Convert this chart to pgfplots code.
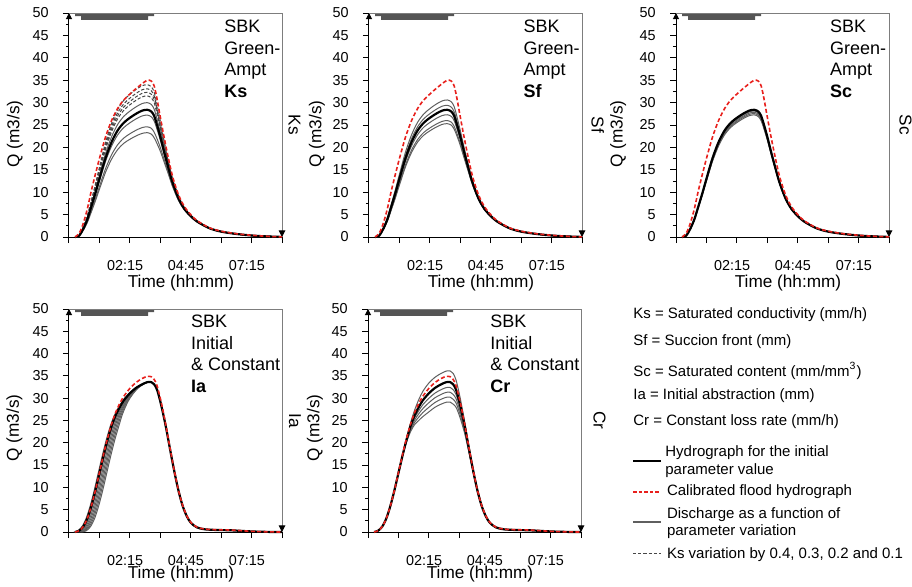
\documentclass[border=0pt]{standalone}
\usepackage{fontspec}
\setmainfont{Liberation Sans}
\usepackage{pgfplots}
\usepackage{pgfplotstable}
\pgfplotsset{compat=1.18}
\usetikzlibrary{arrows.meta}

\definecolor{calib}{RGB}{232,32,28}
\definecolor{varcol}{RGB}{95,95,95}
\definecolor{dashcol}{RGB}{70,70,70}
\definecolor{raincol}{RGB}{85,85,85}
\definecolor{framecol}{RGB}{125,125,125}

\newcommand\tickfont{\fontsize{7.2}{8}\selectfont}
\newcommand\labfont{\fontsize{8.6}{10}\selectfont}
\newcommand\boxfont{\fontsize{9}{10.75}\selectfont}
\newcommand\lgfont{\fontsize{7.5}{9}\selectfont}

% Green-Ampt: calibrated and initial hydrographs
\pgfplotstableread{
t red blk
0 0 0
10 0.8 0.3
20 3.0 1.8
30 6.2 3.9
40 10.3 6.8
50 14.0 9.8
60 17.5 13.0
75 22.3 17.6
90 26.0 21.2
105 28.7 23.8
120 30.6 25.5
135 31.9 26.6
150 33.1 27.5
165 34.2 28.2
178 35.0 28.4
188 34.8 28.0
195 33.7 27.0
202 30.8 25.0
210 26.8 22.4
220 22.0 18.8
230 17.6 15.4
240 13.6 12.2
255 9.4 8.6
270 6.7 6.2
285 5.0 4.7
300 3.7 3.5
330 2.1 2.0
360 1.3 1.2
400 0.7 0.65
440 0.35 0.3
480 0.12 0.1
510 0.03 0.02
}\gatab

% Ks variations (d = dashed, g = solid)
\pgfplotstableread{
t d1 d2 d3 d4 g1 g2 g3 g4
0 0 0 0 0 0 0 0 0
10 0.36 0.35 0.34 0.33 0.32 0.29 0.26 0.25
20 2.15 2.10 2.05 2.00 1.90 1.72 1.56 1.48
30 4.67 4.54 4.43 4.33 4.12 3.74 3.38 3.20
40 8.14 7.92 7.73 7.54 7.18 6.51 5.89 5.58
50 11.73 11.42 11.14 10.87 10.35 9.39 8.49 8.04
60 15.56 15.15 14.78 14.42 13.73 12.45 11.26 10.66
75 21.07 20.50 20.01 19.52 18.59 16.86 15.24 14.43
90 25.38 24.70 24.10 23.51 22.39 20.31 18.36 17.38
105 28.49 27.73 27.06 26.39 25.13 22.80 20.61 19.52
120 30.52 29.71 28.99 28.28 26.93 24.43 22.08 20.91
135 31.84 30.99 30.24 29.50 28.09 25.48 23.04 21.81
150 32.92 32.04 31.27 30.50 29.04 26.35 23.82 22.55
165 33.76 32.85 32.06 31.27 29.78 27.02 24.42 23.12
178 34.00 33.09 32.29 31.50 29.99 27.21 24.59 23.29
188 33.52 32.62 31.84 31.05 29.57 26.82 24.25 22.96
195 32.32 31.46 30.70 29.94 28.51 25.87 23.38 22.14
202 29.53 28.80 28.15 27.50 26.29 24.03 21.92 20.85
210 25.93 25.36 24.86 24.35 23.41 21.64 20.00 19.17
220 21.21 20.81 20.47 20.13 19.48 18.29 17.16 16.60
230 16.92 16.67 16.45 16.24 15.83 15.08 14.37 14.01
240 13.16 13.01 12.87 12.73 12.47 11.99 11.54 11.32
255 9.11 9.03 8.95 8.88 8.75 8.49 8.26 8.14
270 6.47 6.42 6.39 6.35 6.27 6.14 6.02 5.95
285 4.87 4.84 4.82 4.79 4.75 4.66 4.59 4.55
300 3.60 3.59 3.57 3.56 3.53 3.48 3.43 3.41
330 2.0 2.0 2.0 2.0 2.0 2.0 2.0 2.0
360 1.2 1.2 1.2 1.2 1.2 1.2 1.2 1.2
400 0.65 0.65 0.65 0.65 0.65 0.65 0.65 0.65
440 0.3 0.3 0.3 0.3 0.3 0.3 0.3 0.3
510 0.02 0.02 0.02 0.02 0.02 0.02 0.02 0.02
}\ksvar

% Sf variations
\pgfplotstableread{
t a b c d e
0 0 0 0 0 0
10 0.32 0.31 0.29 0.27 0.27
20 1.94 1.86 1.73 1.65 1.60
30 4.20 4.04 3.75 3.57 3.47
40 7.32 7.04 6.53 6.22 6.06
50 10.55 10.14 9.42 8.97 8.73
60 14.00 13.46 12.49 11.90 11.58
75 18.96 18.22 16.91 16.10 15.68
90 22.83 21.94 20.37 19.40 18.89
105 25.63 24.63 22.87 21.78 21.21
120 27.46 26.39 24.51 23.33 22.72
135 28.65 27.53 25.56 24.34 23.70
150 29.62 28.46 26.43 25.16 24.50
165 30.37 29.19 27.10 25.80 25.13
178 30.59 29.39 27.29 25.99 25.30
188 30.16 28.98 26.91 25.62 24.95
195 29.08 27.95 25.95 24.71 24.06
202 26.77 25.80 24.10 23.05 22.50
210 23.78 23.03 21.71 20.88 20.45
220 19.74 19.23 18.33 17.77 17.47
230 15.99 15.67 15.10 14.75 14.56
240 12.58 12.37 12.00 11.79 11.67
255 8.80 8.69 8.50 8.38 8.32
270 6.31 6.25 6.15 6.08 6.05
285 4.77 4.73 4.66 4.63 4.61
300 3.54 3.52 3.48 3.46 3.45
330 2.0 2.0 2.0 2.0 2.0
360 1.2 1.2 1.2 1.2 1.2
400 0.65 0.65 0.65 0.65 0.65
440 0.3 0.3 0.3 0.3 0.3
510 0.02 0.02 0.02 0.02 0.02
}\sfvar

% Sc variations
\pgfplotstableread{
t a b c d
0 0 0 0 0
10 0.30 0.29 0.29 0.29
20 1.78 1.76 1.75 1.73
30 3.86 3.82 3.78 3.74
40 6.73 6.66 6.60 6.53
50 9.70 9.60 9.51 9.41
60 12.87 12.74 12.61 12.48
75 17.42 17.25 17.07 16.90
90 20.99 20.78 20.56 20.35
105 23.56 23.32 23.09 22.85
120 25.25 24.99 24.74 24.48
135 26.33 26.07 25.80 25.54
150 27.23 26.95 26.68 26.40
165 27.92 27.64 27.35 27.07
178 28.12 27.83 27.55 27.26
188 27.72 27.44 27.16 26.88
195 26.73 26.46 26.19 25.92
202 24.80 24.54 24.31 24.08
210 22.22 22.04 21.86 21.68
220 18.68 18.56 18.43 18.31
230 15.32 15.25 15.17 15.09
240 12.15 12.10 12.05 12.00
255 8.57 8.55 8.52 8.50
270 6.19 6.17 6.16 6.15
285 4.69 4.68 4.67 4.66
300 3.50 3.49 3.49 3.48
330 2.0 2.0 2.0 2.0
360 1.2 1.2 1.2 1.2
400 0.65 0.65 0.65 0.65
440 0.3 0.3 0.3 0.3
510 0.02 0.02 0.02 0.02
}\scvar

% Initial & Constant: calibrated and initial hydrographs
\pgfplotstableread{
t red blk
0 0 0
10 0.3 0.3
20 1.2 1.2
30 3.0 3.0
40 5.8 5.8
50 9.3 9.3
60 13.3 13.2
70 17.3 17.1
80 21.0 20.7
90 24.2 23.8
100 26.8 26.2
110 28.8 28.0
120 30.4 29.5
135 32.2 31.1
150 33.5 32.3
165 34.4 33.1
178 34.9 33.6
188 34.8 33.6
195 34.2 33.1
202 32.8 31.9
210 30.0 29.3
218 26.6 26.1
225 23.3 23.0
235 18.3 18.1
245 13.5 13.4
255 9.3 9.2
265 6.0 5.9
275 3.7 3.6
285 2.2 2.1
300 1.1 1.05
320 0.65 0.6
350 0.5 0.45
380 0.45 0.4
400 0.35 0.3
430 0.18 0.15
460 0.07 0.05
490 0.02 0.01
510 0 0
}\ictab

% Ia variations: time of each discharge value
\pgfplotstableread{
q m3 p3 p6 p9 p12 p15 p18
0 -3 3 6 9 12 15 18
0.3 7 13 16 19 22 25 28
1.2 17 23 26 29 32 35 38
3.0 27 33 36 39 42 45 48
5.8 37 43 46 49 52 55 58
9.3 47 53 56 59 62 65 68
13.2 57 63 66 69 72 75 78
17.1 67 73 76 79 82 85 88
20.7 77 83 86 89 92 95 98
23.8 87 93 96 99 102 105 108
26.2 97.3 102.7 105.3 108.0 110.6 113.3 115.9
28.0 107.7 112.3 114.6 117.0 119.3 121.6 123.9
29.5 118.0 122.0 124.0 125.9 127.9 129.9 131.9
31.1 133.5 136.5 137.9 139.4 140.9 142.3 143.8
32.3 149.0 151.0 151.9 152.9 153.8 154.8 155.7
33.1 164.6 165.4 165.9 166.3 166.8 167.2 167.7
33.6 178 178 178 178 178 178 178
33.6 188 188 188 188 188 188 188
}\iavar

% Cr variations
\pgfplotstableread{
t a b c d e
60 13.2 13.2 13.2 13.2 13.2
70 17.16 17.07 17.04 17.01 16.99
80 21.01 20.55 20.42 20.28 20.15
90 24.50 23.46 23.15 22.84 22.52
100 27.36 25.63 25.13 24.61 24.09
110 29.66 27.19 26.48 25.74 25.00
120 31.51 28.52 27.65 26.76 25.86
135 33.40 29.98 28.99 27.96 26.93
150 34.69 31.14 30.10 29.04 27.97
165 35.55 31.91 30.85 29.76 28.66
178 36.09 32.39 31.32 30.21 29.10
188 36.09 32.39 31.32 30.21 29.10
195 35.55 31.91 30.85 29.76 28.66
202 34.07 30.84 29.90 28.94 27.97
210 31.03 28.46 27.71 26.93 26.16
218 27.36 25.49 24.95 24.39 23.83
225 23.85 22.59 22.22 21.84 21.46
235 18.53 17.89 17.71 17.52 17.32
245 13.58 13.31 13.24 13.16 13.08
255 9.25 9.17 9.15 9.13 9.10
265 5.9 5.9 5.9 5.9 5.9
}\crvar

\pgfplotsset{
  panel/.style={
    anchor=south west, scale only axis, width=106.5pt,
    xmin=-15, xmax=510, ymin=0, ymax=50, clip=false,
    axis x line*=bottom, axis y line*=left,
    x axis line style={black, line width=0.5pt},
    y axis line style={black, line width=0.5pt, -{Triangle[length=3pt,width=3pt]}},
    xtick={-15,60,...,510}, xticklabels={,,02:15,,04:45,,07:15,},
    ytick={0,5,...,50}, minor ytick={2.5,7.5,...,47.5},
    tick align=outside, major tick length=3pt, minor tick length=1.6pt,
    tick style={black, line width=0.5pt},
    tick label style={font=\tickfont},
    /pgf/number format/assume math mode=true,
    yticklabel style={anchor=east, inner sep=0pt, xshift=-7pt},
    xticklabel style={anchor=north, inner sep=0pt, yshift=-8.3pt, xshift=-2.4pt},
    xlabel={Time (hh:mm)}, ylabel={Q (m3/s)},
    label style={font=\labfont, inner sep=0pt},
    xlabel style={anchor=north},
    ylabel style={anchor=center},
  },
  varline/.style={varcol, line width=0.5pt, smooth},
  dashline/.style={dashcol, line width=0.5pt, dash pattern=on 1.6pt off 1pt, smooth},
  blkline/.style={black, line width=1.1pt, smooth},
  redline/.style={calib, line width=0.8pt, dash pattern=on 2pt off 1.2pt, smooth},
}

\newcommand\decor{%
  \addplot[fill=raincol, draw=none] coordinates {(0,50)(0,49.33)(15,49.33)(15,48.44)(180,48.44)(180,49.33)(195,49.33)(195,50)};
  \draw[framecol, line width=0.5pt] (rel axis cs:0,1) -- (rel axis cs:1,1);
  \draw[framecol, line width=0.5pt, -{Triangle[length=3.3pt,width=3.3pt,color=black]}] (rel axis cs:1,1) -- (rel axis cs:1,0);
}

\begin{document}
\begin{tikzpicture}
\useasboundingbox (0,0) rectangle (456pt,293pt);

% ---- Ks
\begin{axis}[panel, height=112pt, at={(34.5pt,174.5pt)},
  ylabel style={at={(rel axis cs:-0.2535,0.46)}},
  xlabel style={at={(rel axis cs:0.526,-0.1696)}}]
\decor
\addplot[varline] table[x=t,y=g1]{\ksvar};
\addplot[varline] table[x=t,y=g2]{\ksvar};
\addplot[varline] table[x=t,y=g3]{\ksvar};
\addplot[varline] table[x=t,y=g4]{\ksvar};
\addplot[dashline] table[x=t,y=d1]{\ksvar};
\addplot[dashline] table[x=t,y=d2]{\ksvar};
\addplot[dashline] table[x=t,y=d3]{\ksvar};
\addplot[dashline] table[x=t,y=d4]{\ksvar};
\addplot[blkline] table[x=t,y=blk]{\gatab};
\addplot[redline] table[x=t,y=red]{\gatab};
\node[anchor=north west, align=left, inner sep=0pt, font=\boxfont] at (rel axis cs:0.728,0.969) {SBK\\Green-\\Ampt\\\textbf{Ks}};
\node[rotate=-90, anchor=south, inner sep=0pt, font=\labfont] at (rel axis cs:1.028,0.5) {Ks};
\end{axis}

% ---- Sf
\begin{axis}[panel, height=112pt, at={(184.5pt,174.5pt)},
  ylabel style={at={(rel axis cs:-0.244,0.46)}},
  xlabel style={at={(rel axis cs:0.526,-0.1696)}}]
\decor
\addplot[varline] table[x=t,y=a]{\sfvar};
\addplot[varline] table[x=t,y=b]{\sfvar};
\addplot[varline] table[x=t,y=c]{\sfvar};
\addplot[varline] table[x=t,y=d]{\sfvar};
\addplot[varline] table[x=t,y=e]{\sfvar};
\addplot[blkline] table[x=t,y=blk]{\gatab};
\addplot[redline] table[x=t,y=red]{\gatab};
\node[anchor=north west, align=left, inner sep=0pt, font=\boxfont] at (rel axis cs:0.724,0.969) {SBK\\Green-\\Ampt\\\textbf{Sf}};
\node[rotate=-90, anchor=south, inner sep=0pt, font=\labfont] at (rel axis cs:1.042,0.5) {Sf};
\end{axis}

% ---- Sc
\begin{axis}[panel, height=112pt, at={(338pt,174.5pt)},
  ylabel style={at={(rel axis cs:-0.272,0.46)}},
  xlabel style={at={(rel axis cs:0.526,-0.1696)}}]
\decor
\addplot[varline] table[x=t,y=a]{\scvar};
\addplot[varline] table[x=t,y=b]{\scvar};
\addplot[varline] table[x=t,y=c]{\scvar};
\addplot[varline] table[x=t,y=d]{\scvar};
\addplot[blkline] table[x=t,y=blk]{\gatab};
\addplot[redline] table[x=t,y=red]{\gatab};
\node[anchor=north west, align=left, inner sep=0pt, font=\boxfont] at (rel axis cs:0.722,0.969) {SBK\\Green-\\Ampt\\\textbf{Sc}};
\node[rotate=-90, anchor=south, inner sep=0pt, font=\labfont] at (rel axis cs:1.047,0.5) {Sc};
\end{axis}

% ---- Ia
\begin{axis}[panel, height=111.5pt, at={(34.5pt,27pt)},
  ylabel style={at={(rel axis cs:-0.256,0.467)}},
  xlabel style={at={(rel axis cs:0.526,-0.1525)}}]
\decor
\addplot[varline] table[x=m3,y=q]{\iavar};
\addplot[varline] table[x=p3,y=q]{\iavar};
\addplot[varline] table[x=p6,y=q]{\iavar};
\addplot[varline] table[x=p9,y=q]{\iavar};
\addplot[varline] table[x=p12,y=q]{\iavar};
\addplot[varline] table[x=p15,y=q]{\iavar};
\addplot[varline] table[x=p18,y=q]{\iavar};
\addplot[blkline] table[x=t,y=blk]{\ictab};
\addplot[redline] table[x=t,y=red]{\ictab};
\node[anchor=north west, align=left, inner sep=0pt, font=\boxfont] at (rel axis cs:0.571,0.973) {SBK\\Initial\\\& Constant\\\textbf{Ia}};
\node[rotate=-90, anchor=south, inner sep=0pt, font=\labfont] at (rel axis cs:1.031,0.5) {Ia};
\end{axis}

% ---- Cr
\begin{axis}[panel, height=111.5pt, at={(184pt,27pt)},
  ylabel style={at={(rel axis cs:-0.249,0.467)}},
  xlabel style={at={(rel axis cs:0.526,-0.1525)}}]
\decor
\addplot[varline] table[x=t,y=a]{\crvar};
\addplot[varline] table[x=t,y=b]{\crvar};
\addplot[varline] table[x=t,y=c]{\crvar};
\addplot[varline] table[x=t,y=d]{\crvar};
\addplot[varline] table[x=t,y=e]{\crvar};
\addplot[blkline] table[x=t,y=blk]{\ictab};
\addplot[redline] table[x=t,y=red]{\ictab};
\node[anchor=north west, align=left, inner sep=0pt, font=\boxfont] at (rel axis cs:0.573,0.973) {SBK\\Initial\\\& Constant\\\textbf{Cr}};
\node[rotate=-90, anchor=south, inner sep=0pt, font=\labfont] at (rel axis cs:1.056,0.5) {Cr};
\end{axis}

% ---- key
\begin{scope}[every node/.style={anchor=base west, inner sep=0pt, font=\lgfont}]
\node at (316.5pt,134pt) {Ks = Saturated conductivity (mm/h)};
\node at (316.5pt,120.5pt) {Sf = Succion front (mm)};
\node at (316.5pt,105pt) {Sc = Saturated content (mm/mm\textsuperscript{3})};
\node at (316.5pt,93.5pt) {Ia = Initial abstraction (mm)};
\node at (316.5pt,80.15pt) {Cr = Constant loss rate (mm/h)};
\draw[black, line width=1.1pt] (316.5pt,62.65pt) -- (330.3pt,62.65pt);
\node at (332.5pt,64.65pt) {Hydrograph for the initial};
\node at (332.5pt,56pt) {parameter value};
\draw[calib, line width=0.9pt, dash pattern=on 1.8pt off 1pt] (316.5pt,47.15pt) -- (330.3pt,47.15pt);
\node at (333.3pt,45.5pt) {Calibrated flood hydrograph};
\draw[varcol, line width=0.7pt] (316.5pt,32pt) -- (330.3pt,32pt);
\node at (333.3pt,33.85pt) {Discharge as a function of};
\node at (333.3pt,25.15pt) {parameter variation};
\draw[dashcol, line width=0.5pt, dash pattern=on 1.6pt off 1pt] (316.5pt,16.35pt) -- (330.3pt,16.35pt);
\node at (333.3pt,14pt) {Ks variation by 0.4, 0.3, 0.2 and 0.1};
\end{scope}
\end{tikzpicture}
\end{document}
